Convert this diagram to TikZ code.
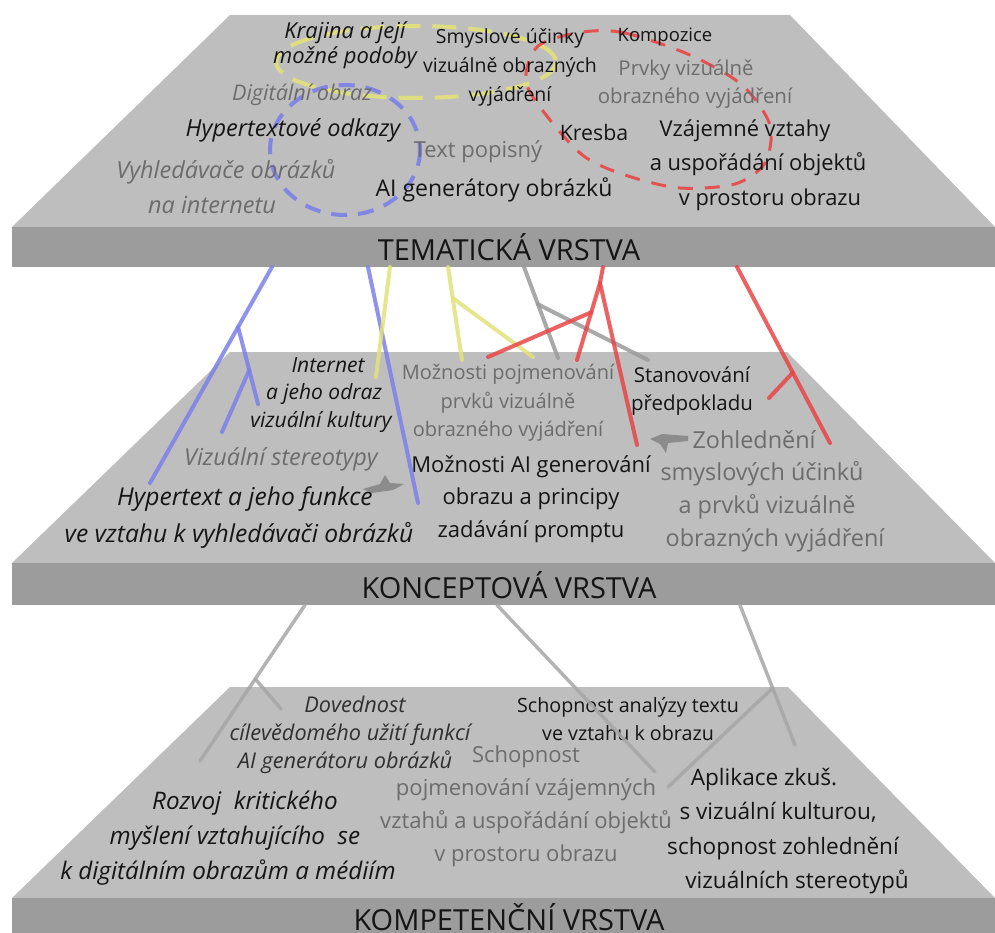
\documentclass[tikz,border=0pt]{standalone}
\usepackage{fontspec}
\setmainfont{Open Sans}
\usetikzlibrary{calc}
\definecolor{face}{HTML}{BEBEBE}
\definecolor{band}{HTML}{9C9C9C}
\definecolor{txtgrey}{HTML}{6C6C6C}
\definecolor{txtdark}{HTML}{151515}
\definecolor{txtmid}{HTML}{303030}
\definecolor{lnblue}{HTML}{7C80E8}
\definecolor{lnyellow}{HTML}{E2E27A}
\definecolor{lnred}{HTML}{E84646}
\definecolor{lngrey}{HTML}{9A9A9A}
\definecolor{lnlight}{HTML}{A6A6A6}
% font size and line distance in one go
\newcommand\fsz[2]{\fontsize{#1}{#2}\selectfont}
% move one line of a centred block sideways by #1 pt
\newcommand\nudge[1]{\hspace*{#1pt}\hspace*{#1pt}}

\begin{document}
\begin{tikzpicture}[x=1pt,y=-1pt,
  layerface/.style={fill=face},
  layerband/.style={fill=band},
  layername/.style={inner sep=0pt,text=txtdark,font=\fsz{29}{34}},
  lbl/.style 2 args={inner sep=0pt,align=center,text=txtdark,font=\fsz{#1}{#2}},
  lbli/.style 2 args={inner sep=0pt,align=center,text=txtdark,font=\fsz{#1}{#2}\itshape},
  glbl/.style 2 args={inner sep=0pt,align=center,text=txtgrey,font=\fsz{#1}{#2}},
  glbli/.style 2 args={inner sep=0pt,align=center,text=txtgrey,font=\fsz{#1}{#2}\itshape},
  link/.style={line width=4pt,line cap=round,draw opacity=0.85},
  bluelink/.style={link,draw=lnblue},
  yellowlink/.style={link,draw=lnyellow},
  redlink/.style={link,draw=lnred},
  greylink/.style={link,draw=lngrey},
  lowlink/.style={link,draw=lnlight,line width=3.5pt},
  ringyellow/.style={draw=lnyellow,line width=4pt,dash pattern=on 24pt off 12pt,draw opacity=0.9},
  ringblue/.style={draw=lnblue,line width=4pt,dash pattern=on 16pt off 11pt,draw opacity=0.9},
  ringred/.style={draw=lnred,line width=3pt,dash pattern=on 15pt off 12pt,draw opacity=0.9},
  marker/.style={fill=black!50,fill opacity=0.8}
]
\useasboundingbox (0,0) rectangle (995,933);

% ---------- three stacked layers ----------
\fill[layerface] (230,15) -- (790,15) -- (995,227) -- (12,227) -- cycle;
\fill[layerband] (12,227) rectangle (995,267);
\fill[layerface] (230,352) -- (787,352) -- (995,563) -- (12,563) -- cycle;
\fill[layerband] (12,563) rectangle (995,605);
\fill[layerface] (230,687) -- (788,687) -- (995,898) -- (12,898) -- cycle;
\fill[layerband] (12,898) rectangle (995,933);

\node[layername] (nTem) at (509,247) {TEMATICKÁ VRSTVA};
\node[layername] (nKon) at (509,585) {KONCEPTOVÁ VRSTVA};
\node[layername] (nKom) at (509,917) {KOMPETENČNÍ VRSTVA};

% ---------- dashed groupings on the thematic layer ----------
\draw[ringyellow] (416,62) ellipse [x radius=140, y radius=36];
\draw[ringblue] (345,150) ellipse [x radius=75, y radius=65];
\draw[ringred] plot[smooth cycle] coordinates {
  (583,32) (625,33) (690,55) (742,85) (770,125) (765,163) (735,184)
  (680,188) (628,176) (585,157) (550,120) (526,82) (538,46)};

% ---------- thematic layer ----------
\node[lbli={22}{25}] (tKraj) at (345,45) {Krajina a její\\možné podoby};
\node[lbl={19.5}{29}] (tSmysl) at (510,67) {Smyslové účinky\\vizuálně obrazných\\vyjádření};
\node[lbl={18.5}{22}] (tKomp) at (665,37) {Kompozice};
\node[glbl={20.4}{28}] (tPrvky) at (693,84) {\nudge{-7}Prvky vizuálně\\\nudge{2}obrazného vyjádření};
\node[glbli={21.6}{25}] (tDig) at (302,95) {Digitální obraz};
\node[lbli={23.5}{28}] (tHyp) at (293,130) {Hypertextové odkazy};
\node[glbl={22}{26}] (tText) at (478,152) {Text popisný};
\node[lbl={21.3}{25}] (tKres) at (594,133) {Kresba};
\node[lbl={21.9}{34.5}] (tVzaj) at (758,165) {\nudge{-13}Vzájemné vztahy\\a uspořádání objektů\\\nudge{12}v prostoru obrazu};
\node[glbli={23.5}{35}] (tVyhl) at (220,187) {\nudge{6}Vyhledávače obrázků\\\nudge{-8}na internetu};
\node[lbl={23}{27}] (tAI) at (494,190) {AI generátory obrázků};

% ---------- conceptual layer ----------
\node[lbli={21}{27.5}] (cInt) at (324,395) {\nudge{4}Internet\\a jeho odraz\\\nudge{-3}vizuální kultury};
\node[glbl={20}{28.5}] (cPojm) at (508,403) {Možnosti pojmenování\\prvků vizuálně\\obrazného vyjádření};
\node[lbl={20.5}{28}] (cStan) at (692,391) {Stanovování\\předpokladu};
\node[glbli={23.4}{27}] (cStereo) at (281,459) {Vizuální stereotypy};
\node[lbl={22}{32.5}] (cAI) at (531,499) {Možnosti AI generování\\obrazu a principy\\zadávání promptu};
\node[glbl={23.4}{32.7}] (cZohl) at (767,491) {\nudge{-13}Zohlednění\\\nudge{-5}smyslových účinků\\a prvků vizuálně\\\nudge{8}obrazných vyjádření};
\node[lbli={24.6}{37}] (cHyp) at (241,518) {\nudge{4}Hypertext a jeho funkce\\\nudge{-2}ve vztahu k vyhledávači obrázků};

% small pointers on the conceptual layer
\fill[marker] (363,489) -- (380,484) -- (385,475) -- (390,483) -- (404,484)
  -- (393,490) -- (372,493) -- cycle;
\fill[marker] (650,439) -- (662,434) -- (688,436) -- (688,441) -- (668,443)
  -- (666,453) -- (660,444) -- cycle;

% ---------- competence layer ----------
\node[inner sep=0pt,align=center,text=txtmid,font=\fsz{21.7}{28}\itshape] (kDov) at (350,735)
  {\nudge{5}Dovednost\\cílevědomého užití funkcí\\\nudge{-5}AI generátoru obrázků};
\node[lbl={19.7}{28}] (kAnal) at (628,719) {Schopnost analýzy textu\\ve vztahu k obrazu};
\node[glbl={22}{33}] (kPojm) at (526,806) {Schopnost\\pojmenování vzájemných\\vztahů a uspořádání objektů\\v prostoru obrazu};
\node[lbli={24.2}{35}] (kRozv) at (236,838) {\nudge{9}Rozvoj\ \ kritického\\\nudge{-1}myšlení vztahujícího\ \ se\\\nudge{-8}k digitálním obrazům a médiím};
\node[lbl={22.6}{34.3}] (kApl) at (780,831) {\nudge{-16}Aplikace zkuš.\\\nudge{-2}s vizuální kulturou,\\\nudge{3}schopnost zohlednění\\\nudge{17}vizuálních stereotypů};

% ---------- links: thematic -> conceptual ----------
\coordinate (bA0) at (272,267);
\coordinate (bA1) at (150,483);
\coordinate (bA2) at ($(bA0)!0.278!(bA1)$);
\coordinate (bA3) at (258,404);
\coordinate (bA4) at ($(bA2)!0.56!(bA3)$);
\coordinate (bA5) at (222,432);
\draw[bluelink] (bA0) -- (bA1);
\draw[bluelink] (bA2) -- (bA3);
\draw[bluelink] (bA4) -- (bA5);

\coordinate (bB0) at (368,267);
\coordinate (bB1) at (418,503);
\draw[bluelink] (bB0) -- (bB1);

\coordinate (yA0) at (390,267);
\coordinate (yA1) at (376,377);
\draw[yellowlink] (yA0) -- (yA1);

\coordinate (yB0) at (448,267);
\coordinate (yB1) at (462,360);
\coordinate (yB2) at ($(yB0)!0.333!(yB1)$);
\coordinate (yB3) at (533,357);
\draw[yellowlink] (yB0) -- (yB1);
\draw[yellowlink] (yB2) -- (yB3);

\coordinate (gA0) at (524,267);
\coordinate (gA1) at (558,358);
\coordinate (gA2) at ($(gA0)!0.41!(gA1)$);
\coordinate (gA3) at (648,360);
\draw[greylink] (gA0) -- (gA1);
\draw[greylink] (gA2) -- (gA3);

\coordinate (rA0) at (603,267);
\coordinate (rA1) at (600,283);
\coordinate (rA2) at (577,360);
\coordinate (rA3) at ($(rA1)!0.38!(rA2)$);
\coordinate (rA4) at (488,357);
\coordinate (rA5) at (637,445);
\draw[redlink] (rA0) -- (rA1) -- (rA2);
\draw[redlink] (rA3) -- (rA4);
\draw[redlink] (rA1) -- (rA5);

\coordinate (rB0) at (737,267);
\coordinate (rB1) at (830,443);
\coordinate (rB2) at ($(rB0)!0.6!(rB1)$);
\coordinate (rB3) at (769,398);
\draw[redlink] (rB0) -- (rB1);
\draw[redlink] (rB2) -- (rB3);

% ---------- links: conceptual -> competence ----------
\coordinate (kA0) at (305,605);
\coordinate (kA1) at (200,761);
\coordinate (kA2) at ($(kA0)!0.474!(kA1)$);
\coordinate (kA3) at (281,709);
\draw[lowlink] (kA0) -- (kA1);
\draw[lowlink] (kA2) -- (kA3);

\coordinate (kB0) at (497,605);
\coordinate (kB1) at (655,772);
\draw[lowlink] (kB0) -- (kB1);

\coordinate (kC0) at (740,605);
\coordinate (kC1) at (795,745);
\coordinate (kC2) at ($(kC0)!0.593!(kC1)$);
\coordinate (kC3) at (668,787);
\draw[lowlink] (kC0) -- (kC1);
\draw[lowlink] (kC2) -- (kC3);
\end{tikzpicture}
\end{document}
